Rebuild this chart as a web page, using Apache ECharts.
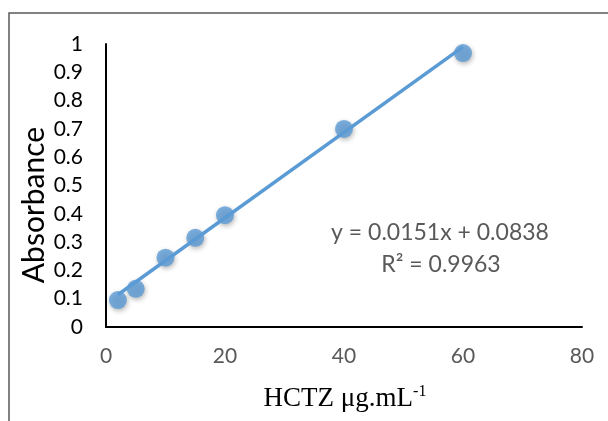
<!DOCTYPE html>
<html><head><meta charset="utf-8">
<script src="https://cdn.jsdelivr.net/npm/echarts@6/dist/echarts.min.js"></script>
<style>html,body{margin:0;padding:0;background:#fff}#c{width:608px;height:421px}</style>
</head><body><div id="c"></div>
<script>
const concentrations = [2, 5, 10, 15, 20, 40, 60];
const absorbances = [0.095, 0.135, 0.245, 0.315, 0.395, 0.70, 0.968];
const trendX = [2, 60];
const trendY = [0.114, 0.99];
const xTicks = [0, 20, 40, 60, 80];
const yTicks = [0, 0.1, 0.2, 0.3, 0.4, 0.5, 0.6, 0.7, 0.8, 0.9, 1];
const equationText = 'y = 0.0151x + 0.0838';
const r2Text = 'R² = 0.9963';

const chart = echarts.init(document.getElementById('c'));
const pts = concentrations.map((x, i) => [x, absorbances[i]]);
const trend = trendX.map((x, i) => [x, trendY[i]]);
const font = 'Lato, "Open Sans", sans-serif';
chart.setOption({
  animation: false,
  grid: {left: 106, right: 26, top: 44, bottom: 94},
  xAxis: {
    type: 'value', min: xTicks[0], max: xTicks[xTicks.length - 1], interval: 20,
    axisLine: {lineStyle: {color: '#000', width: 2}},
    axisTick: {show: false}, splitLine: {show: false},
    axisLabel: {color: '#595959', fontSize: 21, fontFamily: font, margin: 19}
  },
  yAxis: {
    type: 'value', min: yTicks[0], max: yTicks[yTicks.length - 1], interval: 0.1,
    axisLine: {show: true, lineStyle: {color: '#000', width: 2}},
    axisTick: {show: false}, splitLine: {show: false},
    axisLabel: {color: '#000', fontSize: 21, fontFamily: font, margin: 23,
      formatter: v => String(Math.round(v * 10) / 10)}
  },
  series: [
    {type: 'scatter', data: pts, symbolSize: 18, z: 2,
     itemStyle: {color: '#5B9BD5', shadowBlur: 5, shadowColor: 'rgba(0,0,0,0.35)', shadowOffsetX: 1, shadowOffsetY: 2}},
    {type: 'line', data: trend, showSymbol: false, z: 3,
     lineStyle: {color: '#5B9BD5', width: 3.5}}
  ],
  graphic: [
    {type: 'rect', shape: {x: 9, y: 13, width: 700, height: 500}, style: {fill: 'none', stroke: '#595959', lineWidth: 1.5}, z: -1},
    {type: 'text', x: 34, y: 205, rotation: Math.PI / 2,
     style: {text: 'Absorbance', font: '30px ' + font, fill: '#000', textAlign: 'center', textVerticalAlign: 'middle'}},
    {type: 'text', x: 440, y: 233,
     style: {text: equationText, font: '23px ' + font, fill: '#595959', textAlign: 'center', textVerticalAlign: 'middle'}},
    {type: 'text', x: 441, y: 265,
     style: {text: r2Text, font: '23px ' + font, fill: '#595959', textAlign: 'center', textVerticalAlign: 'middle'}},
    {type: 'text', x: 345, y: 398,
     style: {text: '{a|HCTZ μg.mL}{b|-1}', textAlign: 'center', textVerticalAlign: 'middle',
       rich: {a: {font: '27px "Liberation Serif", serif', fill: '#000', verticalAlign: 'bottom'},
              b: {font: '16px "Liberation Serif", serif', fill: '#000', verticalAlign: 'top', padding: [0,0,12,0]}}}}
  ]
});
</script></body></html>
